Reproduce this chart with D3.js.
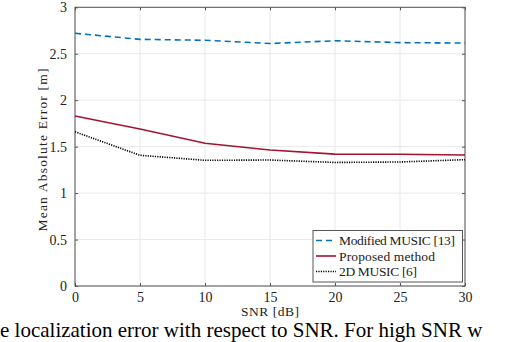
<!DOCTYPE html>
<html>
<head>
<meta charset="utf-8">
<script src="https://cdn.jsdelivr.net/npm/d3@7"></script>
<style>
  body { margin: 0; background: #fff; }
  svg { display: block; }
  text { font-family: "Liberation Serif", "DejaVu Serif", serif; }
</style>
</head>
<body>
<div id="chart"></div>
<script>
// MAE vs SNR, three methods
const snr = [0, 5, 10, 15, 20, 25, 30];
const modifiedMusic = [2.72, 2.655, 2.645, 2.61, 2.64, 2.62, 2.615];
const proposed      = [1.83, 1.69, 1.536, 1.464, 1.42, 1.418, 1.41];
const music2d       = [1.66, 1.407, 1.353, 1.356, 1.33, 1.335, 1.36];
const xTicks = [0, 5, 10, 15, 20, 25, 30];
const yTicks = [0, 0.5, 1, 1.5, 2, 2.5, 3];

const series = [
  { name: "Modified MUSIC [13]", values: modifiedMusic, color: "#0072BD", dash: "6,4", len: 116 },
  { name: "Proposed method", values: proposed, color: "#A2142F", dash: null, len: 96 },
  { name: "2D MUSIC [6]", values: music2d, color: "#000000", dash: "1.2,1.2", len: 78 }
];

const W = 506, H = 342;
const pL = 75, pR = 465, pT = 7.3, pB = 286;
const serif = "Liberation Serif, DejaVu Serif, serif";

const svg = d3.select("#chart").append("svg")
  .attr("width", W).attr("height", H);

const x = d3.scaleLinear().domain([0, 30]).range([pL, pR]);
const y = d3.scaleLinear().domain([0, 3]).range([pB, pT]);

// grid
const grid = svg.append("g");
grid.selectAll(".gx").data(xTicks).enter().append("line")
  .attr("x1", d => x(d)).attr("x2", d => x(d))
  .attr("y1", pT).attr("y2", pB)
  .attr("stroke", "#e8e8e8").attr("stroke-width", 1);
grid.selectAll(".gy").data(yTicks).enter().append("line")
  .attr("x1", pL).attr("x2", pR)
  .attr("y1", d => y(d)).attr("y2", d => y(d))
  .attr("stroke", "#e8e8e8").attr("stroke-width", 1);

// axes with inward ticks
const axisColor = "#555";
function styleAxis(g){
  g.attr("font-family", serif);
  g.select(".domain").remove();
  g.selectAll(".tick line").attr("stroke", axisColor);
  g.selectAll(".tick text").attr("fill", "#222").attr("font-size", 14);
}
svg.append("g").attr("transform", `translate(0,${pB})`)
  .call(d3.axisBottom(x).tickValues(xTicks).tickSizeInner(-3).tickSizeOuter(0).tickPadding(6).tickFormat(d3.format("d")))
  .call(styleAxis);
svg.append("g").attr("transform", `translate(0,${pT})`)
  .call(d3.axisTop(x).tickValues(xTicks).tickSizeInner(-3).tickSizeOuter(0).tickFormat(""))
  .call(styleAxis);
svg.append("g").attr("transform", `translate(${pL},0)`)
  .call(d3.axisLeft(y).tickValues(yTicks).tickSizeInner(-3).tickSizeOuter(0).tickPadding(8).tickFormat(d => d))
  .call(styleAxis);
svg.append("g").attr("transform", `translate(${pR},0)`)
  .call(d3.axisRight(y).tickValues(yTicks).tickSizeInner(-3).tickSizeOuter(0).tickFormat(""))
  .call(styleAxis);

svg.append("rect")
  .attr("x", pL).attr("y", pT)
  .attr("width", pR - pL).attr("height", pB - pT)
  .attr("fill", "none").attr("stroke", axisColor).attr("stroke-width", 1);

// lines
const line = d3.line().x((d, i) => x(snr[i])).y(d => y(d));
svg.selectAll(".series").data(series).enter().append("path")
  .attr("d", d => line(d.values))
  .attr("fill", "none")
  .attr("stroke", d => d.color)
  .attr("stroke-width", 1.6)
  .attr("stroke-dasharray", d => d.dash);

// axis labels
svg.append("text")
  .attr("x", (pL + pR) / 2).attr("y", 316)
  .attr("text-anchor", "middle").attr("font-size", 13.5).attr("fill", "#222")
  .attr("textLength", 58).attr("lengthAdjust", "spacing")
  .text("SNR [dB]");
svg.append("text")
  .attr("transform", `translate(46.5,150) rotate(-90)`)
  .attr("text-anchor", "middle").attr("font-size", 13.5).attr("fill", "#222")
  .attr("textLength", 163).attr("lengthAdjust", "spacing")
  .text("Mean Absolute Error [m]");

// legend
const lg = svg.append("g");
lg.append("rect")
  .attr("x", 313).attr("y", 230.5).attr("width", 149.5).attr("height", 51.5)
  .attr("fill", "#fff").attr("stroke", axisColor).attr("stroke-width", 1);
series.forEach((s, i) => {
  const ly = 240.5 + i * 15.5;
  lg.append("line")
    .attr("x1", 316).attr("x2", 336).attr("y1", ly).attr("y2", ly)
    .attr("stroke", s.color).attr("stroke-width", 1.6)
    .attr("stroke-dasharray", s.dash);
  lg.append("text")
    .attr("x", 339).attr("y", ly + 4.5)
    .attr("font-size", 13.5).attr("fill", "#222")
    .attr("textLength", s.len).attr("lengthAdjust", "spacing")
    .text(s.name);
});

// caption fragment below the figure
svg.append("text")
  .attr("x", 0).attr("y", 336.5)
  .attr("font-size", 21).attr("fill", "#000")
  .text("e localization error with respect to SNR. For high SNR w");
</script>
</body>
</html>
